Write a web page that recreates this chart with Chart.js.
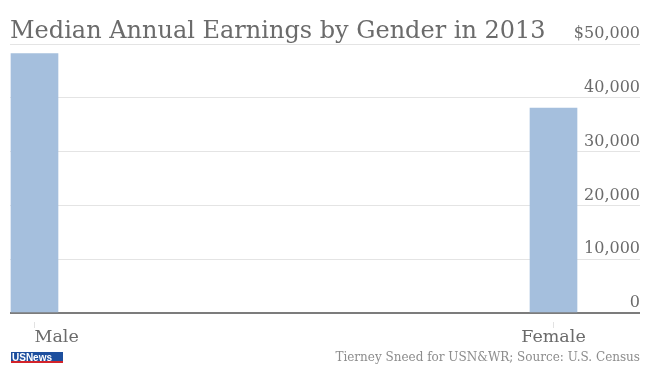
<!DOCTYPE html>
<html>
<head>
<meta charset="utf-8">
<script src="https://cdn.jsdelivr.net/npm/chart.js@4.4.1/dist/chart.umd.min.js"></script>
<style>
  html, body { margin: 0; padding: 0; background: #ffffff; }
  #wrap { width: 652px; height: 367px; position: relative; }
</style>
</head>
<body>
<div id="wrap"><canvas id="c" width="652" height="367"></canvas></div>
<script>
// ---- data ----
const title = 'Median Annual Earnings by Gender in 2013';
const categories = ['Male', 'Female'];
const earnings = [48200, 38100];
const yTicks = [0, 10000, 20000, 30000, 40000, 50000];
const yTickLabels = ['0', '10,000', '20,000', '30,000', '40,000', '$50,000'];
const sourceText = 'Tierney Sneed for USN&WR; Source: U.S. Census';
const logoText = 'USNews';

const SERIF = '"DejaVu Serif", serif';
const TEXT = '#6b6b6b';

const decor = {
  id: 'decor',
  afterDraw(chart) {
    const ctx = chart.ctx;
    const x = chart.scales.x;
    const area = chart.chartArea;
    ctx.save();
    // title
    ctx.fillStyle = TEXT;
    ctx.font = '24px ' + SERIF;
    ctx.textAlign = 'left';
    ctx.textBaseline = 'alphabetic';
    ctx.fillText(title, 10, 38);
    // x tick marks + labels
    categories.forEach((c, i) => {
      const px = Math.round(x.getPixelForValue(i)) + 0.5;
      ctx.strokeStyle = '#e2e2e2';
      ctx.lineWidth = 1;
      ctx.beginPath();
      ctx.moveTo(px, area.bottom + 9);
      ctx.lineTo(px, area.bottom + 15);
      ctx.stroke();
      ctx.fillStyle = TEXT;
      ctx.font = '17.5px ' + SERIF;
      ctx.textAlign = i === 0 ? 'left' : 'center';
      ctx.fillText(c, px, 342);
    });
    // source
    ctx.fillStyle = '#8c8c8c';
    ctx.font = '12px ' + SERIF;
    ctx.textAlign = 'right';
    ctx.fillText(sourceText, 640, 361);
    // logo
    ctx.fillStyle = '#1d4f9e';
    ctx.fillRect(11, 352, 52, 9);
    ctx.fillStyle = '#d3232a';
    ctx.fillRect(11, 361, 52, 2);
    ctx.fillStyle = '#ffffff';
    ctx.font = 'bold 10px "Liberation Sans Narrow", "Liberation Sans", sans-serif';
    ctx.textAlign = 'left';
    ctx.fillText(logoText, 12, 360.5);
    ctx.restore();
  }
};

new Chart(document.getElementById('c'), {
  type: 'bar',
  data: {
    datasets: [{
      data: earnings.map((v, i) => ({ x: i, y: v })),
      backgroundColor: '#a5bfdd',
      borderWidth: 0,
      barThickness: 47
    }]
  },
  options: {
    responsive: false,
    animation: false,
    layout: { padding: { left: 10, right: 12, top: 44, bottom: 54 } },
    plugins: { legend: { display: false }, tooltip: { enabled: false }, title: { display: false } },
    scales: {
      x: {
        type: 'linear',
        display: false,
        offset: false,
        min: -0.0472,
        max: 7 / 6
      },
      y: {
        position: 'right',
        min: 0,
        max: 50000,
        afterBuildTicks: (s) => { s.ticks = yTicks.map(v => ({ value: v })); },
        border: { display: false },
        grid: {
          drawTicks: false,
          color: (c) => (c.tick && c.tick.value === 0 ? '#7c7c7c' : '#e4e4e4'),
          lineWidth: (c) => (c.tick && c.tick.value === 0 ? 2 : 1)
        },
        ticks: {
          mirror: true,
          padding: 0,
          labelOffset: -10,
          color: TEXT,
          font: { family: SERIF, size: 16 },
          callback: (v) => yTickLabels[yTicks.indexOf(v)]
        }
      }
    }
  },
  plugins: [decor]
});
</script>
</body>
</html>
